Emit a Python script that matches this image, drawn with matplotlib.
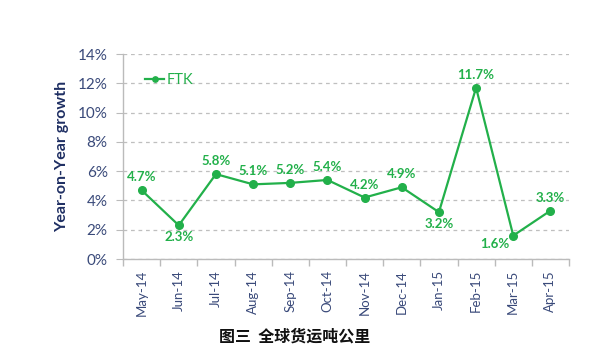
import matplotlib
matplotlib.use("Agg")
import matplotlib.pyplot as plt
from matplotlib.ticker import FuncFormatter, MultipleLocator

months = ["May-14", "Jun-14", "Jul-14", "Aug-14", "Sep-14", "Oct-14",
          "Nov-14", "Dec-14", "Jan-15", "Feb-15", "Mar-15", "Apr-15"]
ftk = [4.7, 2.3, 5.8, 5.1, 5.2, 5.4, 4.2, 4.9, 3.2, 11.7, 1.6, 3.3]
label_pos = ["above", "below", "above", "above", "above", "above",
             "above", "above", "below", "above", "belowleft", "above"]

GREEN = "#22b04a"
NAVY = "#1f2f63"
TICK = "#3a4a7a"

plt.rcParams['font.family'] = ['Lato', 'DejaVu Sans']

fig = plt.figure(figsize=(5.9, 3.58), dpi=100)
ax = fig.add_axes([0.2085, 0.2765, 0.7559, 0.5725])

x = list(range(len(months)))
ax.plot(x, ftk, color=GREEN, lw=1.6, marker="o", ms=5.5, label="FTK", zorder=3)

for xi, v, pos in zip(x, ftk, label_pos):
    txt = f"{v:.1f}%"
    if pos == "above":
        ax.annotate(txt, (xi, v), xytext=(0, 5), textcoords="offset points",
                    ha="center", va="bottom", color=GREEN, fontsize=9.5, fontweight="bold")
    elif pos == "below":
        ax.annotate(txt, (xi, v), xytext=(0, -4), textcoords="offset points",
                    ha="center", va="top", color=GREEN, fontsize=9.5, fontweight="bold")
    else:
        ax.annotate(txt, (xi, v), xytext=(-13, -2), textcoords="offset points",
                    ha="center", va="top", color=GREEN, fontsize=9.5, fontweight="bold")

ax.set_xlim(-0.5, len(months) - 0.5)
ax.set_ylim(0, 14)
ax.yaxis.set_major_locator(MultipleLocator(2))
ax.yaxis.set_major_formatter(FuncFormatter(lambda v, p: f"{v:.0f}%"))

ax.set_xticks([i - 0.5 for i in range(len(months) + 1)])
ax.set_xticklabels([])
ax.set_xticks(x, minor=True)
ax.set_xticklabels(months, minor=True, rotation=90, fontsize=9.5, color=TICK)
ax.tick_params(axis="x", which="major", length=5, color="#bbbbbb", width=1)
ax.tick_params(axis="x", which="minor", length=0, pad=8)
ax.tick_params(axis="y", length=5, color="#bbbbbb", labelsize=11, labelcolor=TICK, pad=6)

ax.grid(axis="y", linestyle=(0, (3, 3)), color="#bfbfbf", lw=0.9)
ax.set_axisbelow(True)
for s in ["top", "right"]:
    ax.spines[s].set_visible(False)
for s in ["left", "bottom"]:
    ax.spines[s].set_color("#bbbbbb")
    ax.spines[s].set_linewidth(1)

ax.set_ylabel("Year-on-Year growth", fontsize=11.5, fontweight="bold", color=NAVY, labelpad=6)

leg = ax.legend(loc="upper left", bbox_to_anchor=(0.02, 0.97), frameon=False,
                fontsize=10.5, handlelength=1.3, handletextpad=0.2, markerscale=0.7)
for t in leg.get_texts():
    t.set_color(GREEN)

fig.text(0.5, 0.06, "图三  全球货运吨公里", ha="center", va="center", fontsize=11.5,
         fontweight="bold", color="#111111", family=['Noto Sans CJK SC', 'DejaVu Sans'])

fig.savefig("out.png", dpi=100)
